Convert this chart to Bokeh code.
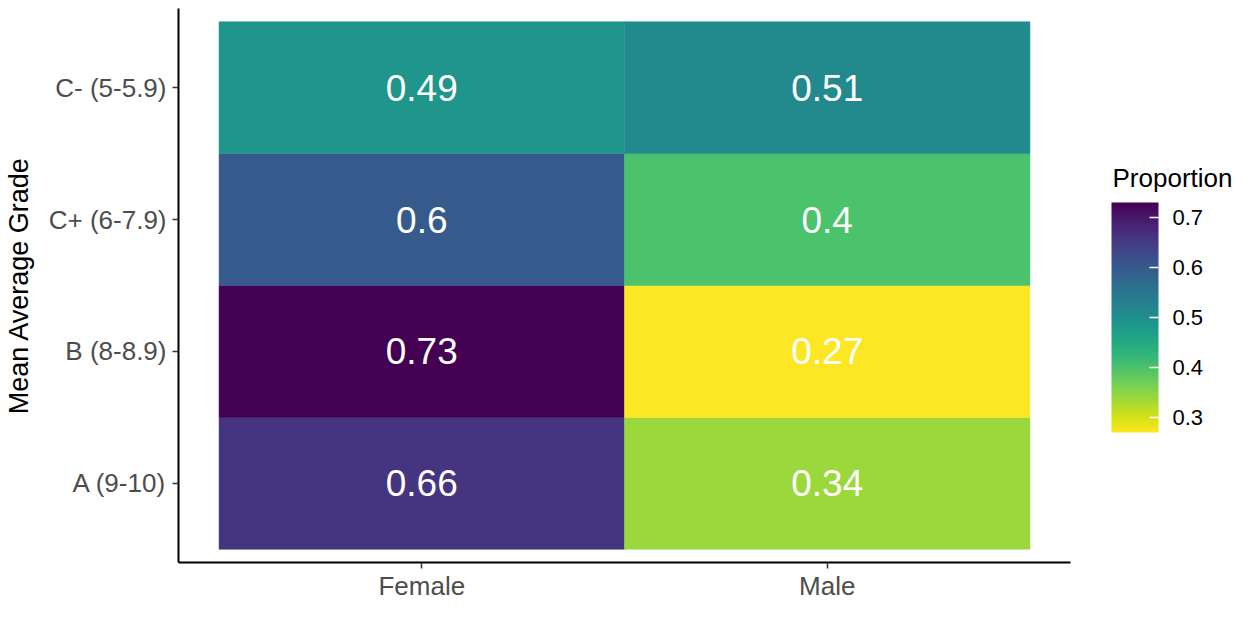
from bokeh.plotting import figure
from bokeh.models import (ColumnDataSource, FactorRange, LinearColorMapper, ColorBar,
                          FixedTicker, Label)
from bokeh.palettes import Viridis256
from bokeh.transform import transform
from bokeh.core.properties import value
from bokeh.embed import file_html
from bokeh.resources import INLINE

# ---- data ----
genders = ["Female", "Male"]
grades = ["A (9-10)", "B (8-8.9)", "C+ (6-7.9)", "C- (5-5.9)"]  # bottom to top
female_prop = [0.66, 0.73, 0.60, 0.49]
male_prop = [0.34, 0.27, 0.40, 0.51]
legend_ticks = [0.3, 0.4, 0.5, 0.6, 0.7]
legend_title = "Proportion"

xs, ys, vals, labels = [], [], [], []
for g, vlist in zip(genders, [female_prop, male_prop]):
    for gr, v in zip(grades, vlist):
        xs.append(g)
        ys.append(gr)
        vals.append(v)
        labels.append(f"{v:g}")
src = ColumnDataSource(dict(x=xs, y=ys, v=vals, lab=labels))

FONT = "Liberation Sans"
mapper = LinearColorMapper(palette=list(reversed(Viridis256)),
                           low=min(vals), high=max(vals))

x_range = FactorRange(factors=genders, range_padding=0.1, range_padding_units="absolute")
y_range = FactorRange(factors=grades, range_padding=0.1, range_padding_units="absolute")

p = figure(x_range=x_range, y_range=y_range, width=1242, height=603,
           output_backend="svg", toolbar_location=None,
           min_border_left=172, min_border_right=172, min_border_top=8,
           min_border_bottom=10)
p.outline_line_color = None
p.grid.visible = False
p.background_fill_color = "white"

p.rect(x="x", y="y", width=1, height=1, source=src,
       fill_color=transform("v", mapper), line_color=transform("v", mapper),
       line_width=0.5)
p.text(x="x", y="y", text="lab", source=src, text_color="white",
       text_font=value(FONT), text_font_size="37px",
       text_align="center", text_baseline="middle")

for ax in (p.xaxis[0], p.yaxis[0]):
    ax.axis_line_color = "black"
    ax.axis_line_width = 2
    ax.major_tick_line_color = "#333333"
    ax.major_tick_line_width = 1.5
    ax.major_tick_out = 6
    ax.major_tick_in = 0
    ax.minor_tick_line_color = None
    ax.major_label_text_font = FONT
    ax.major_label_text_font_size = "26px"
    ax.major_label_text_color = "#4D4D4D"
    ax.axis_label_text_font = FONT
    ax.axis_label_text_font_style = "normal"
    ax.axis_label_text_color = "black"
    ax.axis_label_text_font_size = "27px"

p.xaxis.major_label_standoff = 2
p.yaxis.major_label_standoff = 6
p.yaxis.axis_label = "Mean Average Grade"
p.yaxis.axis_label_standoff = 12

cb = ColorBar(color_mapper=mapper, ticker=FixedTicker(ticks=legend_ticks),
              width=47, height=230, location=(933, 130),
              margin=0, padding=0, title=None,
              major_label_text_font=FONT, major_label_text_font_size="22px",
              major_label_text_color="black", label_standoff=14,
              major_tick_line_color="white", major_tick_in=9, major_tick_out=0,
              major_tick_line_width=1.5,
              bar_line_color=None, border_line_color=None,
              background_fill_color=None)
p.add_layout(cb, "center")

title_lbl = Label(x=42, y=385, x_units="screen", y_units="screen",
                  text=legend_title, text_font=FONT, text_font_size="26px",
                  text_color="black", text_align="left", text_baseline="alphabetic")
p.add_layout(title_lbl, "right")

open("out.html", "w").write(file_html(p, INLINE))
